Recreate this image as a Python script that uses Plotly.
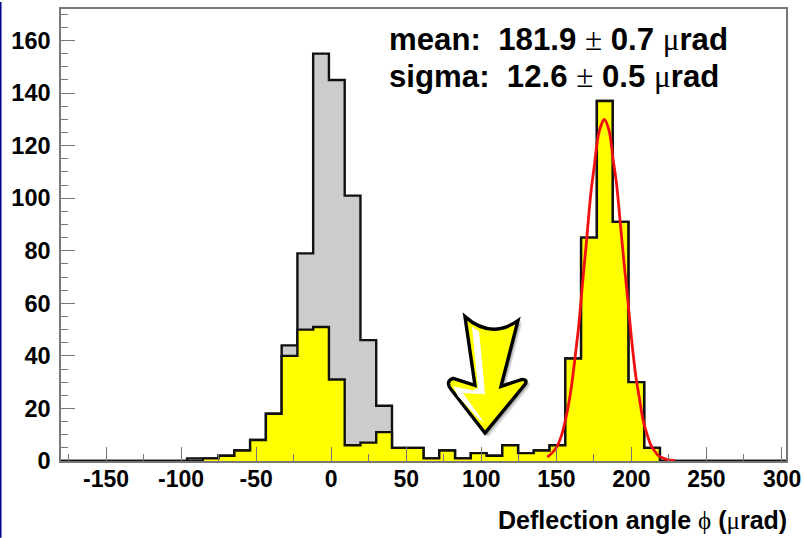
import plotly.graph_objects as go

BIN_START = -180.0
BIN_WIDTH = 10.5
# counts per bin, 46 bins from -180 to 303
all_events = [0,0,0,0,0,0,0,0,1,1,2,4,8,18,44,79,155,145,101,46,21,5,5,1,4,1,3,2,6,3,4,6,39,85,137,91,30,5,0,0,0,0,0,0,0,0]
channeled = [0,0,0,0,0,0,0,0,0,1,2,4,8,18,40,50,51,31,6,7,11,5,5,1,4,1,3,2,6,3,4,6,39,85,137,91,30,5,0,0,0,0,0,0,0,0]
fit_x = [144,147,150,153,155,158,160,163,165,168,170,173,175,178,180,182,185,188,190,193,195,198,200,203,205,208,210,213,215,218,220,224,229]
fit_y = [1.5,3,5,9,13,21,28,42,52,71,83,102,111,124,128,130,126,114,106,88,76,59,47,32,25,15,11,6,4.2,2,1.4,.5,.1]
x_ticks = [-150,-100,-50,0,50,100,150,200,250,300]
y_ticks = [0,20,40,60,80,100,120,140,160]
x_title = 'Deflection angle'
mean_line = ['mean:\u00a0\u00a0181.9', '0.7']
sigma_line = ['sigma:\u00a0\u00a012.6', '0.5']

W, H = 804, 538
ML, MR, MT, MB = 61, 18, 7, 77
PW, PH = W-ML-MR, H-MT-MB
def px(x): return (x-ML)/PW
def py(y): return (H-MB-y)/PH

def steps(vals):
    xs, ys = [], []
    for i, v in enumerate(vals):
        xs += [BIN_START+i*BIN_WIDTH, BIN_START+(i+1)*BIN_WIDTH]
        ys += [v, v]
    return xs, ys

fig = go.Figure()
for vals, col in ((all_events, '#cccccc'), (channeled, '#ffff00')):
    xs, ys = steps(vals)
    fig.add_trace(go.Scatter(x=xs, y=ys, mode='lines', fill='tozeroy', fillcolor=col,
                             line=dict(color='#111111', width=2.4), showlegend=False, hoverinfo='skip'))
fig.add_trace(go.Scatter(x=fit_x, y=fit_y, mode='lines', line=dict(color='#f01010', width=2.8, shape='spline'),
                         showlegend=False, hoverinfo='skip'))

def P(a, b, dx=0, dy=0):
    return f'{px(a+dx):.4f},{py(b+dy):.4f}'
def arrow_path(d=0):
    return (f'M{P(465,316,d,d)} Q{P(491,339,d,d)} {P(518,320,d,d)} L{P(501,386,d,d)} L{P(522,379,d,d)} '
            f'Q{P(528,379,d,d)} {P(525,384,d,d)} L{P(485,433,d,d)} L{P(451,389,d,d)} '
            f'Q{P(445,381,d,d)} {P(453,378,d,d)} L{P(475,385,d,d)} Z')
shapes = []
for off, op in ((3.5, .10), (2.5, .15), (1.5, .25)):
    shapes.append(dict(type='path', xref='paper', yref='paper', path=arrow_path(off),
                       fillcolor=f'rgba(60,60,60,{op})', line=dict(width=2, color=f'rgba(60,60,60,{op/2})')))
shapes.append(dict(type='path', xref='paper', yref='paper', path=arrow_path(),
                   fillcolor='#ffff00', line=dict(color='#000000', width=3.4)))
HL = [(472,326),(479,331),(482,360),(485,394),(463,393),(484,422),(479,419),(458,396),(453,386),(473,390),(478,388)]
hl = 'M' + ' L'.join(P(a, b) for a, b in HL) + ' Z'
shapes.append(dict(type='path', xref='paper', yref='paper', path=hl, fillcolor='#ffffff', line=dict(width=0)))
# blue strip at left edge of the page
shapes.append(dict(type='rect', xref='paper', yref='paper', x0=-ML/PW, x1=(1.5-ML)/PW, y0=py(H), y1=py(0),
                   fillcolor='#00008c', line=dict(width=0), layer='below'))

SYM = "font-family:'Liberation Serif','DejaVu Serif';font-weight:normal"
def sym(c): return f'</b><span style="{SYM}">{c}</span><b>'
FONT = 'Liberation Sans'
anns = [
    dict(text=f'<b>{mean_line[0]} {sym(chr(177))} {mean_line[1]} {sym(chr(956))}rad</b>', x=px(387), y=py(38),
         font=dict(size=31.2, family=FONT, color='black')),
    dict(text=f'<b>{sigma_line[0]} {sym(chr(177))} {sigma_line[1]} {sym(chr(956))}rad</b>', x=px(387), y=py(75),
         font=dict(size=31.2, family=FONT, color='black')),
]
for a in anns:
    a.update(xref='paper', yref='paper', xanchor='left', yanchor='middle', showarrow=False)
anns.append(dict(text=f'<b>{x_title} {sym(chr(981))} ({sym(chr(956))}rad)</b>', x=px(789), y=py(520),
                 xref='paper', yref='paper', xanchor='right', yanchor='middle', showarrow=False,
                 font=dict(size=25, family=FONT, color='black')))
# label of the last tick placed as annotation so it stays inside the page
anns.append(dict(text=f'<b>{x_ticks[-1]}</b>', x=x_ticks[-1], xref='x', y=py(479), yref='paper',
                 xanchor='center', yanchor='middle', showarrow=False,
                 font=dict(size=23, family=FONT, color='black')))

AX = '#777777'
x_text = [f'<b>{v}</b>' for v in x_ticks[:-1]] + ['']
fig.update_layout(
    width=W, height=H, autosize=False, margin=dict(l=ML, r=MR, t=MT, b=MB),
    paper_bgcolor='white', plot_bgcolor='white', shapes=shapes, annotations=anns,
    font=dict(family=FONT, color='black'),
    xaxis=dict(range=[BIN_START, BIN_START+46*BIN_WIDTH], tickvals=x_ticks, ticktext=x_text,
               ticks='inside', ticklen=14, tickcolor=AX, tickwidth=1.2, showgrid=False, zeroline=False,
               showline=True, linecolor=AX, linewidth=1.5, mirror=True, tickfont=dict(size=23), ticklabelstandoff=-3,
               minor=dict(dtick=25, tick0=0, ticks='inside', ticklen=7, tickcolor=AX, tickwidth=1.2, showgrid=False)),
    yaxis=dict(range=[0, 172], tickvals=y_ticks, ticktext=[f'<b>{v}</b>' for v in y_ticks],
               ticks='inside', ticklen=14, tickcolor=AX, tickwidth=1.2, showgrid=False, zeroline=False,
               showline=True, linecolor=AX, linewidth=1.5, mirror=True, tickfont=dict(size=23.5), ticklabelstandoff=4,
               minor=dict(dtick=5, tick0=0, ticks='inside', ticklen=7, tickcolor=AX, tickwidth=1.2, showgrid=False)),
)
fig.write_html('out.html', config=dict(displayModeBar=False),
               post_script="document.body.style.margin='0';document.documentElement.style.overflow='hidden';")
